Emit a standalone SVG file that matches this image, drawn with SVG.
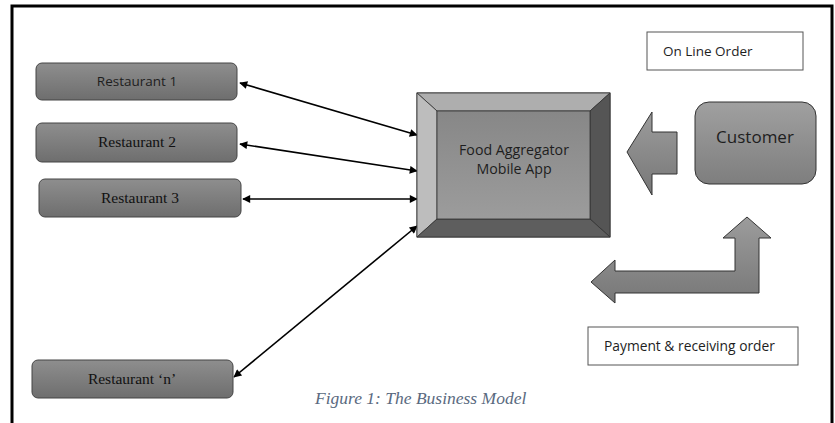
<svg xmlns="http://www.w3.org/2000/svg" width="835" height="423" viewBox="0 0 835 423">
  <style>
    .rest { stroke: #454545; stroke-width: 1; fill: url(#gRest); }
    .sans { font-family: "Open Sans", "Liberation Sans", sans-serif; fill: #1e1e1e; }
    .serif { font-family: "Liberation Serif", serif; fill: #111; }
    .link { stroke: #000; stroke-width: 1.6; fill: none; marker-start: url(#ah); marker-end: url(#ah); }
    .label-box { fill: #fff; stroke: #555; stroke-width: 1; }
    .block { fill: url(#gBlock); stroke: #333; stroke-width: 1; }
  </style>
  <defs>
    <linearGradient id="gRest" x1="0" y1="0" x2="0" y2="1">
      <stop offset="0" stop-color="#8e8e8e"/>
      <stop offset="1" stop-color="#6e6e6e"/>
    </linearGradient>
    <linearGradient id="gFace" x1="0" y1="0" x2="0" y2="1">
      <stop offset="0" stop-color="#878787"/>
      <stop offset="1" stop-color="#9c9c9c"/>
    </linearGradient>
    <linearGradient id="gCust" x1="0" y1="0" x2="0" y2="1">
      <stop offset="0" stop-color="#a0a0a0"/>
      <stop offset="1" stop-color="#7e7e7e"/>
    </linearGradient>
    <linearGradient id="gBlock" x1="0" y1="0" x2="0" y2="1">
      <stop offset="0" stop-color="#9c9c9c"/>
      <stop offset="1" stop-color="#777"/>
    </linearGradient>
    <marker id="ah" viewBox="0 0 10 10" refX="9" refY="5" markerWidth="11" markerHeight="8" markerUnits="userSpaceOnUse" orient="auto-start-reverse">
      <path d="M0,0 L10,5 L0,10 z" fill="#000"/>
    </marker>
  </defs>

  <rect width="835" height="423" fill="#fff"/>
  <!-- outer frame -->
  <path d="M12,423 V6 H832 V423" fill="none" stroke="#000" stroke-width="3"/>

  <!-- connectors -->
  <g id="connectors">
    <line class="link" x1="240" y1="83" x2="417" y2="135"/>
    <line class="link" x1="240" y1="144" x2="417" y2="171"/>
    <line class="link" x1="243" y1="199" x2="417" y2="199"/>
    <line class="link" x1="234" y1="377" x2="417" y2="226"/>
    <!-- order arrow from customer to app -->
    <path class="block" d="M627,152 L652,112 L652,132 L677,132 L677,174 L652,174 L652,195 Z"/>
    <!-- payment & delivery bent arrow -->
    <path class="block" d="M591,282 L615,260 L615,271 L735,271 L735,238 L723,238 L747,217 L771,238 L759,238 L759,293 L615,293 L615,303 Z"/>
  </g>

  <g id="restaurant-1">
    <rect class="rest" x="36" y="63" width="201" height="37" rx="6"/>
    <text class="sans" x="137" y="86" font-size="13.5" text-anchor="middle">Restaurant 1</text>
  </g>
  <g id="restaurant-2">
    <rect class="rest" x="36" y="123" width="201" height="39" rx="6"/>
    <text class="serif" x="137" y="147" font-size="15.5" text-anchor="middle">Restaurant 2</text>
  </g>
  <g id="restaurant-3">
    <rect class="rest" x="39" y="179" width="202" height="38" rx="6"/>
    <text class="serif" x="140" y="203" font-size="15.5" text-anchor="middle">Restaurant 3</text>
  </g>
  <g id="restaurant-n">
    <rect class="rest" x="32" y="360" width="201" height="38" rx="6"/>
    <text class="serif" x="132" y="384" font-size="15.5" text-anchor="middle">Restaurant ‘n’</text>
  </g>

  <g id="food-aggregator">
    <rect x="417" y="93" width="193" height="144" fill="#888" stroke="#333" stroke-width="1"/>
    <polygon points="417,93 610,93 590,111 437,111" fill="#aeaeae" stroke="#333" stroke-width="0.8"/>
    <polygon points="417,93 437,111 437,219 417,237" fill="#bdbdbd" stroke="#333" stroke-width="0.8"/>
    <polygon points="610,93 610,237 590,219 590,111" fill="#555" stroke="#333" stroke-width="0.8"/>
    <polygon points="417,237 437,219 590,219 610,237" fill="#5e5e5e" stroke="#333" stroke-width="0.8"/>
    <rect x="437" y="111" width="153" height="108" fill="url(#gFace)" stroke="#333" stroke-width="0.8"/>
    <text class="sans" x="514" y="155" font-size="14.2" text-anchor="middle">Food Aggregator</text>
    <text class="sans" x="514" y="174" font-size="14.2" text-anchor="middle">Mobile App</text>
  </g>

  <g id="customer">
    <rect x="695" y="102" width="121" height="82" rx="14" fill="url(#gCust)" stroke="#333" stroke-width="1"/>
    <text class="sans" x="755" y="143" font-size="17" text-anchor="middle">Customer</text>
  </g>

  <g id="online-order">
    <rect class="label-box" x="647" y="32" width="156" height="38"/>
    <text class="sans" x="663" y="56" font-size="13.5">On Line Order</text>
  </g>

  <g id="payment">
    <rect class="label-box" x="588" y="327" width="210" height="38"/>
    <text class="sans" x="604" y="351" font-size="13.8">Payment &amp; receiving order</text>
  </g>

  <text x="315" y="404" font-family="Liberation Serif, serif" font-style="italic" font-size="17.5" fill="#5a6a80">Figure 1: The Business Model</text>
</svg>
